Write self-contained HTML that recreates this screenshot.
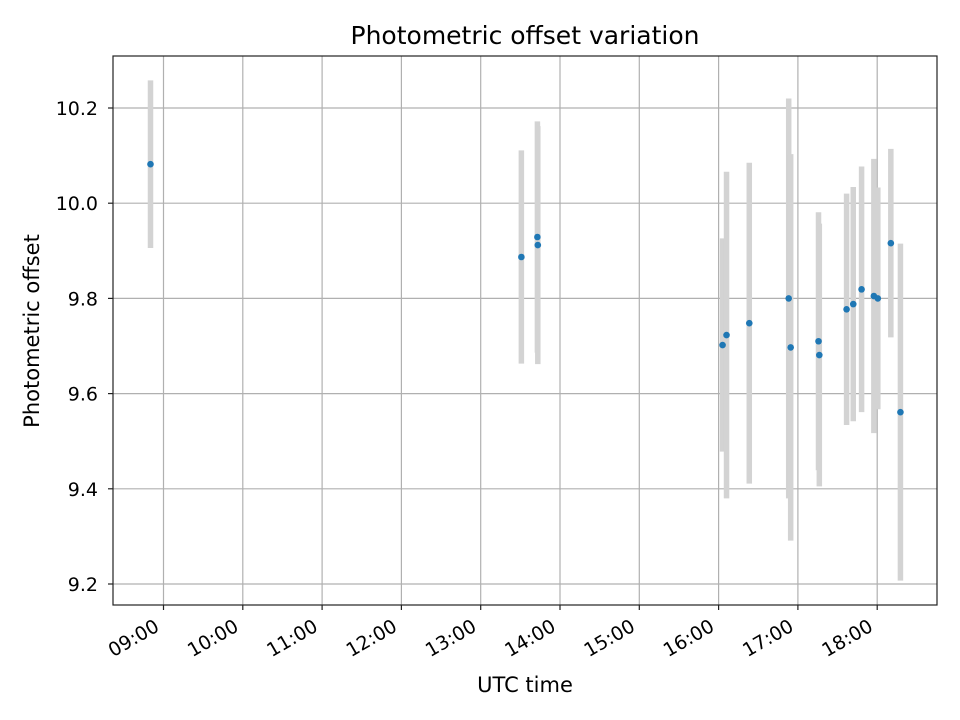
<!DOCTYPE html>
<html><head><meta charset="utf-8"><style>
html,body{margin:0;padding:0;background:#fff}
svg{display:block;font-family:"DejaVu Sans","Liberation Sans",sans-serif}
</style></head><body>
<svg id="chart" width="960" height="720" viewBox="0 0 960 720">
<rect x="0" y="0" width="960" height="720" fill="#fff"/>
<g id="grid"></g><g id="bars"></g><g id="dots"></g><g id="axes"></g>
<text x="525" y="44" text-anchor="middle" font-size="25" fill="#000">Photometric offset variation</text>
<text x="525" y="692" text-anchor="middle" font-size="21" fill="#000">UTC time</text>
<text x="39" y="331" text-anchor="middle" font-size="21" fill="#000" transform="rotate(-90 39 331)">Photometric offset</text>
</svg>
<script>
const hours = [8.836,13.513,13.715,13.72,16.05,16.10,16.387,16.884,16.909,17.26,17.27,17.614,17.698,17.803,17.958,18.008,18.172,18.293];
const values = [10.082,9.887,9.929,9.912,9.702,9.723,9.748,9.80,9.697,9.71,9.681,9.777,9.788,9.819,9.805,9.80,9.916,9.561];
const errors = [0.176,0.224,0.243,0.25,0.224,0.343,0.337,0.42,0.406,0.271,0.276,0.243,0.246,0.258,0.288,0.233,0.198,0.354];
const xTicks = [9,10,11,12,13,14,15,16,17,18];
const xTickLabels = ["09:00","10:00","11:00","12:00","13:00","14:00","15:00","16:00","17:00","18:00"];
const yTicks = [9.2,9.4,9.6,9.8,10.0,10.2];
const yTickLabels = ["9.2","9.4","9.6","9.8","10.0","10.2"];

const L=113,R=937,T=56,B=605;
function xs(h){return 163.5+(h-9)*79.3;}
function ys(v){return 108+(10.2-v)*476;}
const NS="http://www.w3.org/2000/svg";
function mk(parent,tag,attrs){const e=document.createElementNS(NS,tag);for(const k in attrs)e.setAttribute(k,attrs[k]);document.getElementById(parent).appendChild(e);return e;}

xTicks.forEach((t,i)=>{
  const x=xs(t);
  const g=mk('grid','line',{x1:x,x2:x,y1:T,y2:B,stroke:'#b0b0b0','stroke-width':1.2});
  
  
  const tk=mk('axes','line',{x1:x,x2:x,y1:B,y2:B+5,stroke:'#222','stroke-width':1.2});
  
  
  const lx=x-3, ly=B+25;
  const lb=mk('axes','text',{x:lx,y:ly,'text-anchor':'end','font-size':19,fill:'#000',transform:'rotate(-30 '+lx+' '+ly+')'});
  lb.textContent=xTickLabels[i];
  
  
});
yTicks.forEach((t,i)=>{
  const y=ys(t);
  const g=mk('grid','line',{x1:L,x2:R,y1:y,y2:y,stroke:'#b0b0b0','stroke-width':1.2});
  
  
  const tk=mk('axes','line',{x1:L-5,x2:L,y1:y,y2:y,stroke:'#222','stroke-width':1.2});
  
  
  const lb=mk('axes','text',{x:L-15,y:y+7,'text-anchor':'end','font-size':19,fill:'#000'});
  lb.textContent=yTickLabels[i];
  
  
});
const frame=mk('axes','rect',{x:L,y:T,width:R-L,height:B-T,fill:'none',stroke:'#222','stroke-width':1.2});



hours.forEach((h,i)=>{
  const x=xs(h);
  const b=mk('bars','line',{x1:x,x2:x,y1:ys(values[i]+errors[i]),y2:ys(values[i]-errors[i]),stroke:'#d3d3d3','stroke-width':5.5});
  
  
});
hours.forEach((h,i)=>{
  const d=mk('dots','circle',{cx:xs(h),cy:ys(values[i]),r:3.3,fill:'#1f77b4'});
  
  
});
</script>
</body></html>
